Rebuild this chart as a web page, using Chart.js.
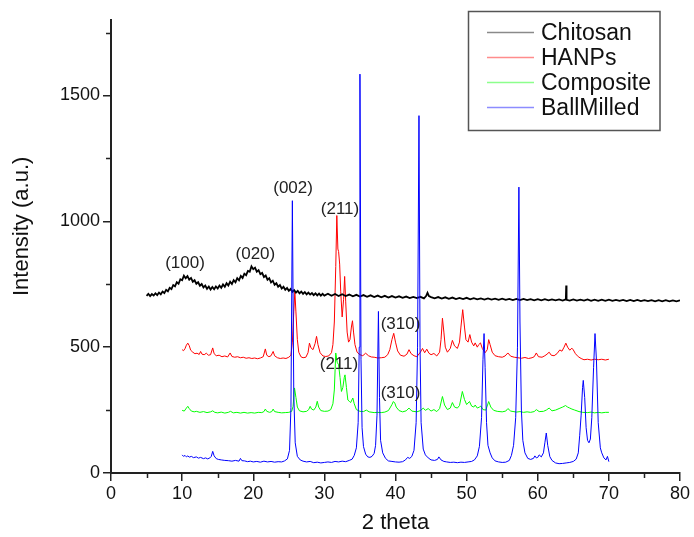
<!DOCTYPE html>
<html><head><meta charset="utf-8">
<script src="https://cdn.jsdelivr.net/npm/chart.js@4.4.1/dist/chart.umd.min.js"></script>
<style>html,body{margin:0;padding:0;background:#fff}canvas{display:block}</style>
</head><body>
<canvas id="c" width="694" height="537"></canvas>
<script>
const seriesNames = ['Chitosan', 'HANPs', 'Composite', 'BallMilled'];

const chitosan = [
[5.0,704],[5.25,712],[5.5,703],[5.75,711],[6.0,705],[6.25,714],[6.5,707],[6.75,717],[7.0,710],[7.25,721],[7.5,715],[7.75,728],
[8.0,722],[8.25,736],[8.5,731],[8.75,747],[9.0,742],[9.25,758],[9.5,752],[9.75,770],[10.0,766],[10.25,784],[10.5,774],[10.75,782],
[11.0,768],[11.25,775],[11.5,760],[11.75,766],[12.0,752],[12.25,758],[12.5,744],[12.75,751],[13.0,737],[13.25,745],[13.5,732],[13.75,741],
[14.0,729],[14.25,739],[14.5,730],[14.75,741],[15.0,733],[15.25,745],[15.5,736],[15.75,749],[16.0,740],[16.25,754],[16.5,745],[16.75,760],
[17.0,751],[17.25,766],[17.5,758],[17.75,774],[18.0,766],[18.25,783],[18.5,775],[18.75,792],[19.0,786],[19.25,803],[19.5,800],[19.75,821],
[20.0,810],[20.25,816],[20.5,800],[20.75,806],[21.0,790],[21.25,795],[21.5,779],[21.75,785],[22.0,768],[22.25,774],[22.5,757],[22.75,764],
[23.0,748],[23.25,754],[23.5,740],[23.75,747],[24.0,733],[24.25,740],[24.5,728],[24.75,735],[25.0,724],[25.25,731],[25.5,720],[25.75,727],
[26.0,717],[26.25,724],[26.5,714],[26.75,721],[27.0,712],[27.25,719],[27.5,710],[27.75,717],[28.0,709],[28.25,715],[28.5,707],[28.75,714],
[29.0,706],[29.25,713],[29.5,705],[29.75,712],[30.0,705],[30.5,712],[31.0,704],[31.5,711],[32.0,703],[32.5,710],[33.0,703],[33.5,709],
[34.0,702],[34.5,708],[35.0,701],[35.5,707],[36.0,700],[36.5,706],[37.0,699],[37.5,705],[38.0,698],[38.5,704],[39.0,697],[39.5,703],
[40.0,697],[40.5,702],[41.0,696],[41.5,701],[42.0,695],[42.5,700],[43.0,695],[43.5,700],[44.0,694],[44.3,703],[44.5,716],[44.7,703],
[45.0,699],[45.5,694],[46.0,699],[46.5,693],[47.0,698],[47.5,692],[48.0,697],[48.5,691],[49.0,696],[49.5,691],[50.0,696],[50.5,690],
[51.0,695],[51.5,690],[52.0,694],[52.5,689],[53.0,694],[53.5,689],[54.0,693],[54.5,688],[55.0,693],[55.5,688],[56.0,692],[56.5,687],
[57.0,692],[57.5,687],[58.0,692],[58.5,687],[59.0,691],[59.5,686],[60.0,691],[60.5,686],[61.0,691],[61.5,686],[62.0,690],[62.5,686],
[63.0,690],[63.5,685],[63.95,690],[64.0,745],[64.05,688],[64.5,685],[65.0,690],[65.5,685],[66.0,689],[66.5,685],[67.0,690],[67.5,684],
[68.0,689],[68.5,684],[69.0,689],[69.5,684],[70.0,689],[70.5,684],[71.0,688],[71.5,684],[72.0,688],[72.5,683],[73.0,688],[73.5,683],
[74.0,688],[74.5,683],[75.0,687],[75.5,683],[76.0,687],[76.5,682],[77.0,687],[77.5,682],[78.0,687],[78.5,682],[79.0,686],[79.5,682],[80.0,686]
];

const hanps = [
[10.0,490],[10.2,486],[10.4,494],[10.6,508],[10.8,516],[11.0,506],[11.2,488],[11.5,480],[11.8,474],[12.1,476],[12.4,471],[12.6,483],
[12.8,472],[13.1,470],[13.4,476],[13.7,468],[14.0,470],[14.3,497],[14.5,474],[14.8,466],[15.2,468],[15.6,462],[16.0,465],[16.4,461],
[16.75,477],[17.0,463],[17.4,460],[17.8,462],[18.2,458],[18.6,460],[19.0,456],[19.4,458],[19.8,455],[20.2,457],[20.6,454],[21.0,457],
[21.4,462],[21.7,493],[21.9,468],[22.2,462],[22.5,466],[22.8,483],[23.0,466],[23.4,458],[23.8,455],[24.2,457],[24.6,455],[25.0,460],
[25.3,468],[25.5,520],[25.7,640],[25.85,720],[26.0,640],[26.2,530],[26.4,480],[26.7,462],[27.0,458],[27.4,460],[27.7,478],[27.9,516],
[28.1,498],[28.4,490],[28.7,515],[28.9,543],[29.1,510],[29.4,478],[29.8,465],[30.2,463],[30.6,465],[31.0,478],[31.2,510],[31.4,600],
[31.6,820],[31.75,1023],[31.9,890],[32.0,880],[32.15,830],[32.3,720],[32.5,620],[32.7,690],[32.85,781],[33.0,680],[33.2,560],[33.4,520],
[33.6,530],[33.8,580],[33.95,605],[34.1,560],[34.3,510],[34.6,480],[35.0,470],[35.4,466],[35.8,476],[36.2,466],[36.6,461],[37.0,460],
[37.5,457],[38.0,458],[38.5,460],[38.9,470],[39.2,490],[39.5,530],[39.75,555],[40.0,520],[40.3,485],[40.7,468],[41.2,464],[41.6,472],
[41.9,490],[42.2,474],[42.6,466],[43.0,462],[43.5,480],[43.8,495],[44.1,478],[44.4,492],[44.7,476],[45.0,470],[45.4,475],[45.8,465],
[46.2,480],[46.4,530],[46.6,615],[46.8,560],[47.0,500],[47.3,480],[47.7,495],[48.0,527],[48.3,505],[48.7,495],[49.0,520],[49.2,580],
[49.45,649],[49.7,580],[49.9,530],[50.2,520],[50.45,550],[50.7,520],[51.0,505],[51.2,517],[51.5,500],[51.7,510],[51.95,517],[52.2,495],
[52.6,478],[52.9,490],[53.1,530],[53.3,510],[53.6,480],[54.0,466],[54.5,462],[55.0,460],[55.4,465],[55.8,477],[56.2,464],[56.7,460],
[57.2,458],[57.7,456],[58.2,459],[58.7,455],[59.2,458],[59.5,462],[59.8,477],[60.1,462],[60.6,460],[61.0,466],[61.3,472],[61.6,480],
[61.9,468],[62.3,466],[62.7,474],[63.1,489],[63.4,484],[63.7,500],[63.95,516],[64.2,500],[64.5,488],[64.8,496],[65.0,489],[65.3,474],
[65.7,462],[66.1,455],[66.5,450],[67.0,452],[67.5,449],[68.0,452],[68.5,450],[69.0,452],[69.5,449],[70.0,452]
];

const composite = [
[10.0,249],[10.3,246],[10.6,258],[10.8,265],[11.0,256],[11.3,246],[11.7,243],[12.0,245],[12.5,241],[13.0,244],[13.5,240],[14.0,243],
[14.3,247],[14.6,241],[15.0,239],[15.5,242],[16.0,238],[16.5,241],[16.8,245],[17.2,239],[17.7,241],[18.2,238],[18.7,241],[19.2,238],
[19.7,240],[20.2,238],[20.7,241],[21.2,240],[21.5,244],[21.7,254],[21.9,245],[22.3,241],[22.6,244],[22.8,254],[23.0,244],[23.5,241],
[24.0,239],[24.5,240],[25.0,241],[25.4,245],[25.6,265],[25.8,338],[26.0,300],[26.2,262],[26.5,247],[27.0,243],[27.5,245],[27.8,252],
[28.0,265],[28.2,254],[28.5,250],[28.8,262],[29.0,285],[29.2,262],[29.5,248],[30.0,245],[30.5,246],[30.9,252],[31.2,275],[31.4,330],
[31.6,477],[31.8,440],[32.0,430],[32.2,380],[32.4,324],[32.6,340],[32.8,380],[32.9,390],[33.1,340],[33.3,290],[33.5,285],[33.7,280],
[34.0,298],[34.2,275],[34.5,252],[35.0,245],[35.5,244],[35.9,250],[36.3,243],[37.0,240],[37.5,241],[38.0,240],[38.5,242],[39.0,248],
[39.3,262],[39.5,272],[39.7,284],[39.9,278],[40.1,262],[40.5,248],[41.0,243],[41.5,247],[41.9,258],[42.3,246],[43.0,243],[43.5,248],
[43.9,258],[44.2,249],[44.6,256],[45.0,246],[45.4,252],[45.8,244],[46.2,256],[46.6,304],[46.9,270],[47.3,252],[47.7,258],[48.0,280],
[48.3,262],[48.7,258],[49.0,268],[49.4,324],[49.7,292],[50.0,272],[50.4,284],[50.7,266],[51.0,262],[51.2,270],[51.5,258],[51.8,262],
[52.0,266],[52.3,252],[52.7,250],[53.1,284],[53.4,262],[53.8,249],[54.3,245],[55.0,243],[55.5,246],[55.8,256],[56.2,246],[57.0,242],
[57.5,244],[58.0,241],[58.5,243],[59.0,241],[59.5,244],[59.8,252],[60.2,244],[60.8,245],[61.2,250],[61.6,258],[62.0,247],[62.5,250],
[63.0,256],[63.5,262],[63.9,268],[64.2,262],[64.5,258],[64.8,254],[65.2,250],[65.8,244],[66.3,241],[67.0,240],[67.5,242],[68.0,239],
[68.5,241],[69.0,239],[69.5,241],[70.0,241]
];

const ballMilled = [
[10.0,72],[10.2,66],[10.4,70],[10.6,64],[10.8,68],[11.0,63],[11.3,66],[11.6,61],[12.0,64],[12.3,59],[12.6,62],[13.0,57],
[13.3,60],[13.6,56],[13.9,60],[14.1,66],[14.3,86],[14.5,68],[14.8,57],[15.1,54],[15.5,52],[16.0,50],[16.5,49],[17.0,47],
[17.5,50],[18.0,47],[18.2,58],[18.4,49],[18.8,48],[19.2,45],[19.6,47],[20.0,44],[20.5,46],[21.0,43],[21.5,47],[22.0,44],
[22.5,46],[23.0,43],[23.5,45],[24.0,44],[24.4,48],[24.8,56],[25.1,90],[25.3,260],[25.5,1082],[25.7,310],[25.9,120],[26.2,66],
[26.6,52],[27.0,47],[27.5,44],[28.0,46],[28.5,41],[29.0,43],[29.5,40],[30.0,42],[30.5,44],[31.0,42],[31.5,46],[32.0,44],
[32.5,47],[33.0,45],[33.5,50],[33.9,55],[34.2,70],[34.5,100],[34.75,200],[34.9,500],[35.0,1585],[35.15,450],[35.3,180],[35.5,105],
[35.8,75],[36.1,64],[36.4,62],[36.7,66],[37.0,78],[37.2,110],[37.4,230],[37.6,642],[37.75,300],[37.9,130],[38.2,80],[38.6,58],
[39.0,48],[39.5,46],[40.0,44],[40.5,43],[41.0,45],[41.4,52],[41.7,62],[42.0,58],[42.3,66],[42.6,90],[42.9,200],[43.1,500],
[43.3,1420],[43.45,500],[43.6,200],[43.9,95],[44.2,72],[44.6,60],[45.0,52],[45.5,50],[45.9,54],[46.1,64],[46.4,52],[46.8,46],
[47.2,44],[47.7,42],[48.2,43],[48.7,41],[49.2,43],[49.7,42],[50.2,44],[50.7,46],[51.1,52],[51.5,68],[51.8,106],[52.1,220],
[52.3,450],[52.45,554],[52.6,420],[52.8,200],[53.0,110],[53.3,80],[53.6,60],[54.0,48],[54.5,44],[55.0,42],[55.5,43],[56.0,50],
[56.3,70],[56.6,110],[56.9,220],[57.15,500],[57.35,1136],[57.5,600],[57.7,250],[57.9,130],[58.2,80],[58.6,58],[59.0,54],[59.4,58],
[59.6,68],[59.8,60],[60.0,62],[60.2,72],[60.5,64],[60.8,80],[61.0,120],[61.2,159],[61.4,110],[61.7,65],[62.0,50],[62.5,40],
[63.0,37],[63.5,38],[64.0,40],[64.5,42],[65.0,46],[65.4,55],[65.7,80],[65.9,150],[66.1,230],[66.3,340],[66.4,368],[66.6,300],
[66.8,180],[67.0,130],[67.2,120],[67.4,135],[67.6,220],[67.85,420],[68.05,554],[68.25,450],[68.5,200],[68.8,100],[69.0,80],[69.3,60],
[69.6,52],[69.8,66],[70.0,45]
];

const xTicks = [0, 10, 20, 30, 40, 50, 60, 70, 80];
const xMinorTicks = [5, 15, 25, 35, 45, 55, 65, 75];
const yTicks = [0, 500, 1000, 1500];
const yMinorTicks = [250, 750, 1250, 1750];

const peakLabels = [
  {text: '(100)', x: 10.4, y: 835},
  {text: '(020)', x: 20.3, y: 867},
  {text: '(002)', x: 25.6, y: 1133},
  {text: '(211)', x: 32.2, y: 1046},
  {text: '(310)', x: 40.7, y: 591},
  {text: '(211)', x: 32.05, y: 430},
  {text: '(310)', x: 40.7, y: 315}
];

const FONT = '"Liberation Sans", Arial, sans-serif';
const lineColors = ['#000000', '#ff0000', '#00ff00', '#0000ff'];
const legendColors = ['#8a8a8a', '#ff8c8c', '#8cff8c', '#8c8cff'];
const toXY = arr => arr.map(p => ({x: p[0], y: p[1]}));
const allSeries = [chitosan, hanps, composite, ballMilled];

const datasets = allSeries.map((s, i) => ({
  label: seriesNames[i],
  data: toXY(s),
  borderColor: lineColors[i],
  borderWidth: i === 0 ? 1.8 : 1,
  pointRadius: 0,
  tension: 0,
  fill: false,
  order: i === 3 ? 0 : i + 1
}));

const extrasPlugin = {
  id: 'extras',
  afterDraw(chart) {
    const ctx = chart.ctx;
    const xs = chart.scales.x, ys = chart.scales.y;
    const ca = chart.chartArea;
    ctx.save();
    ctx.strokeStyle = '#222';
    ctx.lineWidth = 1.5;
    ctx.beginPath();
    xMinorTicks.forEach(v => {
      const px = Math.round(xs.getPixelForValue(v)) + 0.5;
      ctx.moveTo(px, ca.bottom);
      ctx.lineTo(px, ca.bottom + 5);
    });
    yMinorTicks.forEach(v => {
      const py = Math.round(ys.getPixelForValue(v)) + 0.5;
      ctx.moveTo(ca.left - 5, py);
      ctx.lineTo(ca.left, py);
    });
    ctx.stroke();
    ctx.fillStyle = '#222';
    ctx.font = '17px ' + FONT;
    ctx.textAlign = 'center';
    ctx.textBaseline = 'middle';
    peakLabels.forEach(l => {
      ctx.fillText(l.text, xs.getPixelForValue(l.x), ys.getPixelForValue(l.y));
    });
    ctx.save();
    ctx.translate(22, ys.getPixelForValue(980));
    ctx.rotate(-Math.PI / 2);
    ctx.font = '22px ' + FONT;
    ctx.fillStyle = '#111';
    ctx.fillText('Intensity (a.u.)', 0, 0);
    ctx.restore();
    const bx = 468.5, by = 11.5, bw = 191.5, bh = 119;
    ctx.fillStyle = '#fff';
    ctx.fillRect(bx, by, bw, bh);
    ctx.strokeStyle = '#555';
    ctx.lineWidth = 1.5;
    ctx.strokeRect(bx, by, bw, bh);
    ctx.font = '23px ' + FONT;
    ctx.textAlign = 'left';
    ctx.textBaseline = 'middle';
    chart.data.datasets.forEach((d, i) => {
      const ry = 32.5 + i * 25;
      ctx.strokeStyle = legendColors[i];
      ctx.lineWidth = 1.5;
      ctx.beginPath();
      ctx.moveTo(487, ry);
      ctx.lineTo(534, ry);
      ctx.stroke();
      ctx.fillStyle = '#111';
      ctx.fillText(d.label, 541, ry + 1);
    });
    ctx.restore();
  }
};

new Chart(document.getElementById('c'), {
  type: 'line',
  data: {datasets},
  options: {
    responsive: false,
    animation: false,
    devicePixelRatio: 1,
    layout: {padding: {top: 20, right: 14, bottom: 0, left: 0}},
    plugins: {legend: {display: false}, tooltip: {enabled: false}},
    scales: {
      x: {
        type: 'linear',
        min: 0, max: 80,
        afterBuildTicks: s => { s.ticks = xTicks.map(v => ({value: v})); },
        afterFit: s => { s.height = 64; },
        ticks: {font: {size: 18, family: FONT}, color: '#111', maxRotation: 0, padding: 2, callback: v => String(v)},
        grid: {drawOnChartArea: false, drawTicks: true, tickLength: 8, color: '#222', lineWidth: 1.5},
        border: {display: true, color: '#222', width: 2},
        title: {display: true, text: '2 theta', font: {size: 22, family: FONT}, color: '#111', padding: {top: 0, bottom: 1}}
      },
      y: {
        type: 'linear',
        min: 0, max: 1800,
        afterBuildTicks: s => { s.ticks = yTicks.map(v => ({value: v})); },
        afterFit: s => { s.width = 111; },
        ticks: {font: {size: 18, family: FONT}, color: '#111', padding: 3, callback: v => String(v)},
        grid: {drawOnChartArea: false, drawTicks: true, tickLength: 8, color: '#222', lineWidth: 1.5},
        border: {display: true, color: '#222', width: 2},
        title: {display: false}
      }
    }
  },
  plugins: [extrasPlugin]
});
</script>
</body></html>
